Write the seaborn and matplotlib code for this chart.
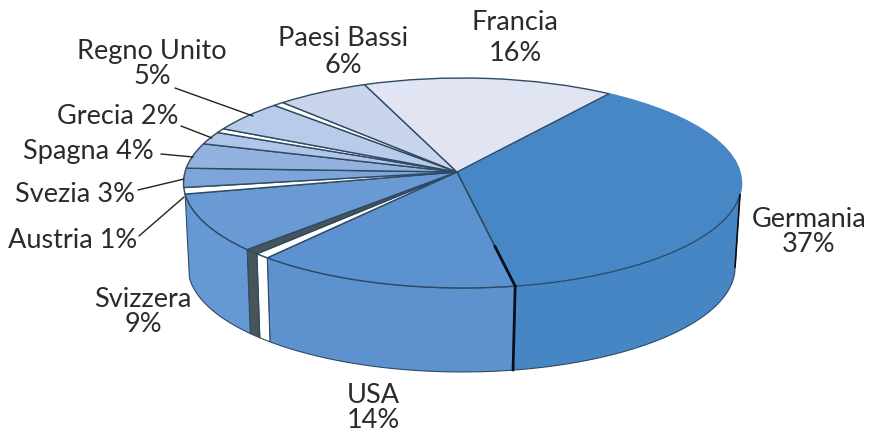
import numpy as np
import matplotlib
matplotlib.use("Agg")
import matplotlib.pyplot as plt
import matplotlib.transforms as mtransforms
import seaborn as sns

sns.set_theme(style="white")
plt.rcParams['font.family'] = ['Lato', 'DejaVu Sans']

# clockwise from the Germania/Francia edge; the empty names are the unlabelled strips
names = ['Germania', 'USA', '', '', 'Svizzera', 'Austria', 'Svezia', 'Spagna',
         'Grecia', '', 'Regno Unito', '', 'Paesi Bassi', 'Francia']
shares = [37, 14, 0.8, 0.8, 9, 1, 3, 4, 2, 0.7, 5, 0.7, 6, 16]
top_colors = ['#4887c6', '#5b92cf', '#ffffff', '#47545a', '#6a9ad3', '#ffffff', '#7da5da',
              '#93b2df', '#b0c5e8', '#ffffff', '#b9cbea', '#ffffff', '#c9d4ed', '#e0e4f3']
wall_colors = ['#4686c5', '#5e92ce', '#ffffff', '#47545a', '#6598d5']

labels = ['Germania\n37%', 'USA\n14%', 'Svizzera\n9%', 'Austria 1%', 'Svezia 3%', 'Spagna 4%',
          'Grecia 2%', 'Regno Unito\n5%', 'Paesi Bassi\n6%', 'Francia\n16%']
label_pos = [(809, 232), (373, 408), (143, 312), (73, 240), (75, 195), (88, 151),
             (118, 117), (152, 64), (343, 52), (515, 38)]
label_spacing = [1.03, 1.03, 1.03, 1.0, 1.0, 1.0, 1.0, 0.98, 1.06, 1.28]
leaders = [((175, 88), (253, 116)), ((181, 126), (212, 138)), ((161, 154), (193, 157)),
           ((138, 190), (184, 179)), ((139, 236), (184, 197))]

EDGE = '#2f4a63'
BLACK = '#05101c'
# where the wall's right side leaves the top and bottom rims
SIDE_TOP = -12
SIDE_BOTTOM = -6


class Tilt(mtransforms.Transform):
    # perspective view of the unit disc, result in picture pixels
    input_dims = 2
    output_dims = 2

    def __init__(self, x0=457, y0=172, a=277.4, b=103.8, kx=-0.0198, ky=0.1046):
        super().__init__()
        self.p = (x0, y0, a, b, kx, ky)

    def transform_non_affine(self, values):
        x0, y0, a, b, kx, ky = self.p
        values = np.asarray(values)
        w = 1 + kx * values[:, 0] + ky * values[:, 1]
        return np.column_stack([x0 + a * values[:, 0] / w, y0 - b * values[:, 1] / w])


def arc(trans, t1, t2):
    t = np.radians(np.linspace(t1, t2, 60))
    return trans.transform_non_affine(np.column_stack([np.cos(t), np.sin(t)]))


fig, ax = plt.subplots(figsize=(8.74, 4.38), dpi=100)
wedges, _ = ax.pie(shares, colors=top_colors, startangle=54, counterclock=False,
                   wedgeprops={'edgecolor': EDGE, 'linewidth': 1.0})
ax.set_aspect('auto')
ax.set_xlim(0, 874)
ax.set_ylim(438, 0)
ax.set_position([0, 0, 1, 1])
ax.set_frame_on(False)

top = Tilt()
bottom = Tilt(x0=456, y0=256, a=272, b=103.8)
for i, w in enumerate(wedges):
    w.set_transform(top + ax.transData)
    w.set_zorder(3)
    # side wall, only the front slices show one
    if i < len(wall_colors):
        a1 = arc(top, w.theta1, min(w.theta2, SIDE_TOP))
        a2 = arc(bottom, w.theta1, min(w.theta2, SIDE_BOTTOM))
        poly = np.vstack([a1, a2[::-1]])
        ax.fill(poly[:, 0], poly[:, 1], facecolor=wall_colors[i], edgecolor=EDGE, lw=0.8, zorder=1)
wedges[0].set_edgecolor(top_colors[0])

# germania rim line, right silhouette and the heavy USA/Germania edge
g = wedges[0]
line = arc(top, g.theta1, SIDE_TOP)
ax.plot(line[:, 0], line[:, 1], color=EDGE, lw=0.9, zorder=4)
p_top = arc(top, SIDE_TOP, SIDE_TOP)[0]
p_bot = arc(bottom, SIDE_BOTTOM, SIDE_BOTTOM)[0]
ax.plot([p_top[0], p_bot[0]], [p_top[1], p_bot[1]], color=BLACK, lw=1.2, zorder=4)

p_top = arc(top, g.theta1, g.theta1)[0]
p_bot = arc(bottom, g.theta1, g.theta1)[0]
apex = top.transform_non_affine([[0, 0]])[0]
ax.plot([p_top[0], p_bot[0]], [p_top[1], p_bot[1]], color=BLACK, lw=2, zorder=4)
ax.plot([apex[0], p_top[0]], [apex[1], p_top[1]], color=EDGE, lw=1, zorder=4)
start = apex + 0.65 * (p_top - apex)
ax.plot([start[0], p_top[0]], [start[1], p_top[1]], color=BLACK, lw=2, zorder=4)

for txt, (x, y), sp in zip(labels, label_pos, label_spacing):
    ax.text(x, y, txt, ha='center', va='center', fontsize=19.5, color='#2b2b2b', linespacing=sp)
for (x1, y1), (x2, y2) in leaders:
    ax.plot([x1, x2], [y1, y2], color='#222222', lw=1, zorder=5)

sns.despine(ax=ax, left=True, bottom=True)
fig.savefig('out.png', dpi=100)
